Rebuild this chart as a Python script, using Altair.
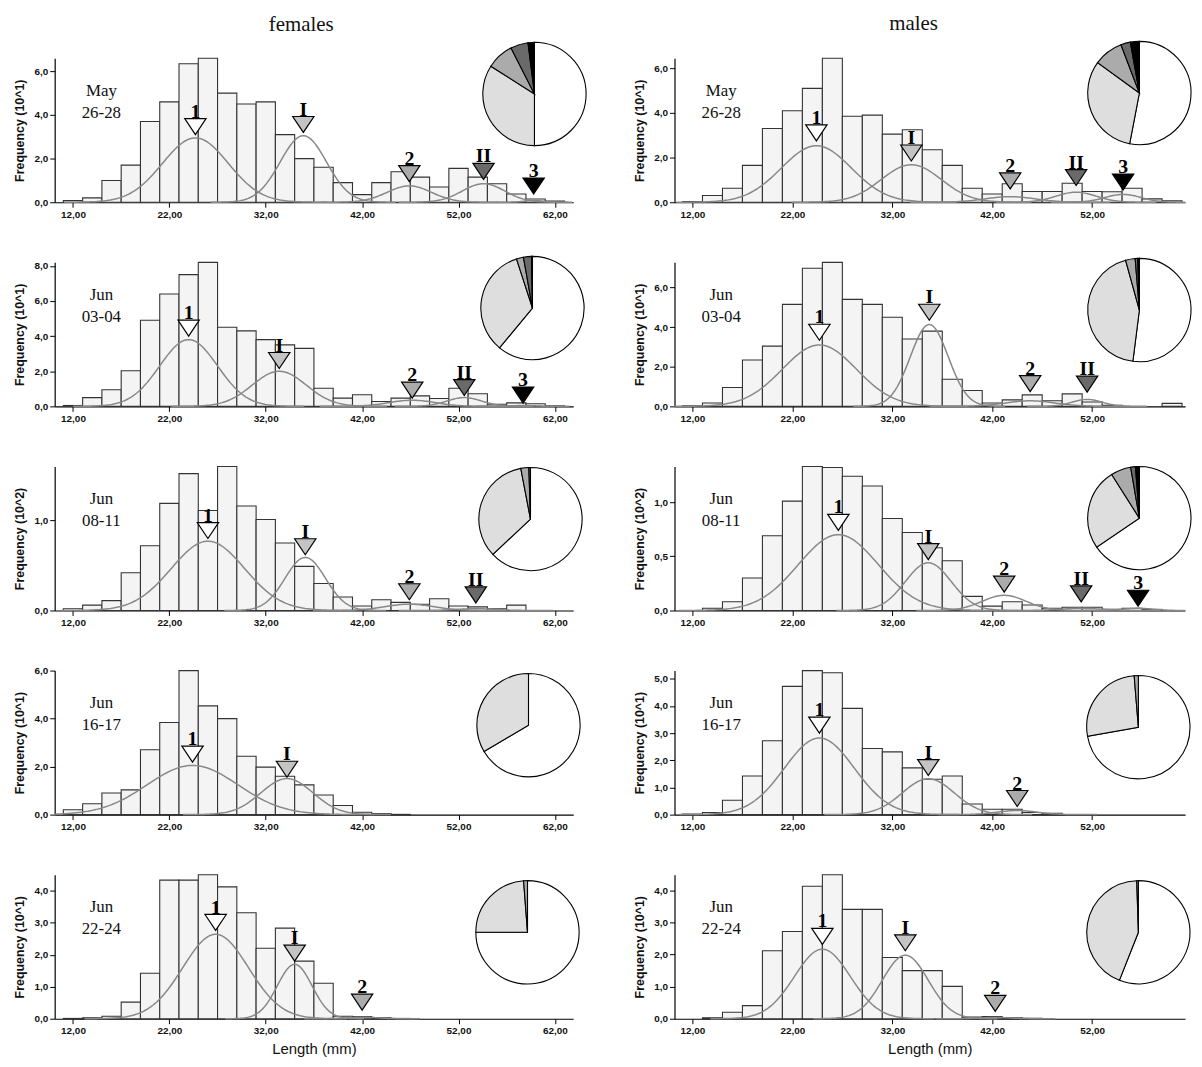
import altair as alt
import numpy as np
import pandas as pd

# ---------------- data ----------------
F_X = [12, 14, 16, 18, 20, 22, 24, 26, 28, 30, 32, 34, 36, 38, 40, 42, 44, 46, 48, 50, 52, 54, 56, 58, 60, 62]
M_X = [12, 14, 16, 18, 20, 22, 24, 26, 28, 30, 32, 34, 36, 38, 40, 42, 44, 46, 48, 50, 52, 54, 56, 58, 60]

F_XTICKS = [12, 22, 32, 42, 52, 62]
M_XTICKS = [12, 22, 32, 42, 52]

# females
F1_DATE = "May\n26-28"
F1_BARS = [0.08, 0.2, 1.0, 1.7, 3.7, 4.6, 6.35, 6.6, 5.0, 4.5, 4.6, 3.1, 2.0, 1.6, 0.9, 0.35, 0.9, 1.4, 1.15, 0.7, 1.55, 1.15, 0.85, 0.38, 0.15, 0.05]
F1_COMP = ["1", "I", "2", "II", "3"]
F1_MEAN = [24.7, 35.9, 46.9, 54.6, 59.8]
F1_SD = [3.4, 2.4, 2.3, 2.2, 1.0]
F1_PEAK = [2.95, 3.05, 0.75, 0.85, 0.08]
F1_TIP = [3.1, 3.2, 0.95, 1.05, 0.38]
F1_PIE = [0.50, 0.34, 0.085, 0.055, 0.02]

F2_DATE = "Jun\n03-04"
F2_BARS = [0.05, 0.5, 0.95, 2.03, 4.9, 6.4, 7.5, 8.2, 4.5, 4.3, 3.8, 3.5, 3.3, 1.03, 0.47, 0.66, 0.28, 0.47, 0.6, 0.45, 1.03, 0.72, 0.12, 0.2, 0.15, 0.03]
F2_COMP = ["1", "I", "2", "II", "3"]
F2_MEAN = [24.0, 33.4, 47.2, 52.6, 58.7]
F2_SD = [3.0, 2.8, 2.4, 1.8, 1.2]
F2_PEAK = [3.8, 2.0, 0.35, 0.5, 0.05]
F2_TIP = [4.0, 2.16, 0.47, 0.62, 0.19]
F2_PIE = [0.61, 0.34, 0.022, 0.025, 0.003]

F3_DATE = "Jun\n08-11"
F3_BARS = [0.02, 0.06, 0.11, 0.42, 0.72, 1.19, 1.52, 1.11, 1.6, 1.16, 1.01, 0.75, 0.49, 0.3, 0.15, 0.05, 0.12, 0.09, 0.07, 0.13, 0.05, 0.04, 0.02, 0.06, 0.0, 0.0]
F3_COMP = ["1", "I", "2", "II"]
F3_MEAN = [26.0, 36.1, 46.9, 53.8]
F3_SD = [3.8, 2.1, 2.5, 2.0]
F3_PEAK = [0.77, 0.59, 0.07, 0.02]
F3_TIP = [0.8, 0.62, 0.12, 0.085]
F3_PIE = [0.63, 0.34, 0.025, 0.005]

F4_DATE = "Jun\n16-17"
F4_BARS = [0.2, 0.45, 0.9, 1.03, 2.7, 3.84, 6.0, 4.53, 4.0, 2.43, 1.98, 1.6, 1.24, 0.82, 0.38, 0.1, 0.04, 0.01, 0, 0, 0, 0, 0, 0, 0, 0]
F4_COMP = ["1", "I"]
F4_MEAN = [24.4, 34.2]
F4_SD = [4.7, 2.7]
F4_PEAK = [2.05, 1.5]
F4_TIP = [2.19, 1.56]
F4_PIE = [0.665, 0.335]

F5_DATE = "Jun\n22-24"
F5_BARS = [0.01, 0.03, 0.08, 0.52, 1.42, 4.33, 4.33, 4.5, 4.12, 3.31, 2.2, 2.83, 1.8, 1.11, 0.08, 0.07, 0.03, 0.01, 0, 0, 0, 0, 0, 0, 0, 0]
F5_COMP = ["1", "I", "2"]
F5_MEAN = [26.8, 35.0, 42.0]
F5_SD = [3.4, 1.8, 1.5]
F5_PEAK = [2.64, 1.7, 0.05]
F5_TIP = [2.76, 1.8, 0.27]
F5_PIE = [0.75, 0.238, 0.012]

# males
M1_DATE = "May\n26-28"
M1_BARS = [0.03, 0.3, 0.63, 1.65, 3.3, 4.1, 5.1, 6.45, 3.85, 3.9, 3.05, 3.25, 2.35, 1.65, 0.63, 0.37, 0.83, 0.48, 0.48, 0.85, 0.48, 0.47, 0.63, 0.15, 0.07]
M1_COMP = ["1", "I", "2", "II", "3"]
M1_MEAN = [24.4, 33.9, 43.8, 50.4, 55.1]
M1_SD = [3.5, 3.0, 2.5, 2.0, 1.8]
M1_PEAK = [2.53, 1.68, 0.25, 0.45, 0.35]
M1_TIP = [2.75, 1.85, 0.6, 0.75, 0.55]
M1_PIE = [0.53, 0.32, 0.092, 0.03, 0.028]

M2_DATE = "Jun\n03-04"
M2_BARS = [0.03, 0.17, 0.95, 2.34, 3.04, 5.15, 6.97, 7.27, 5.4, 5.15, 4.5, 3.4, 3.8, 1.37, 0.8, 0.17, 0.33, 0.58, 0.28, 0.63, 0.22, 0.05, 0, 0, 0.15]
M2_COMP = ["1", "I", "2", "II"]
M2_MEAN = [24.7, 35.7, 45.8, 51.5]
M2_SD = [3.7, 1.9, 2.5, 1.5]
M2_PEAK = [3.1, 4.13, 0.28, 0.35]
M2_TIP = [3.34, 4.35, 0.75, 0.72]
M2_PIE = [0.52, 0.437, 0.03, 0.008, 0.005]

M3_DATE = "Jun\n08-11"
M3_BARS = [0.0, 0.02, 0.08, 0.3, 0.69, 1.01, 1.33, 1.32, 1.24, 1.15, 0.85, 0.72, 0.58, 0.46, 0.13, 0.04, 0.08, 0.05, 0.02, 0.03, 0.03, 0.01, 0.02, 0.01, 0.0]
M3_COMP = ["1", "I", "2", "II", "3"]
M3_MEAN = [26.6, 35.6, 43.2, 50.9, 56.6]
M3_SD = [4.0, 2.3, 2.2, 2.0, 1.5]
M3_PEAK = [0.7, 0.44, 0.14, 0.02, 0.02]
M3_TIP = [0.74, 0.47, 0.17, 0.08, 0.04]
M3_PIE = [0.655, 0.255, 0.063, 0.015, 0.012]

M4_DATE = "Jun\n16-17"
M4_BARS = [0.02, 0.08, 0.53, 1.42, 2.72, 4.72, 5.3, 5.22, 3.91, 2.43, 2.31, 1.72, 1.3, 1.42, 0.39, 0.2, 0.2, 0.08, 0.05, 0, 0, 0, 0, 0, 0]
M4_COMP = ["1", "I", "2"]
M4_MEAN = [24.7, 35.6, 44.5]
M4_SD = [3.5, 2.6, 2.0]
M4_PEAK = [2.82, 1.32, 0.15]
M4_TIP = [3.0, 1.44, 0.3]
M4_PIE = [0.722, 0.265, 0.013]

M5_DATE = "Jun\n22-24"
M5_BARS = [0, 0.03, 0.2, 0.41, 2.12, 2.72, 4.13, 4.49, 3.41, 3.41, 1.91, 1.5, 1.5, 1.01, 0.05, 0.07, 0.03, 0.01, 0, 0, 0, 0, 0, 0, 0]
M5_COMP = ["1", "I", "2"]
M5_MEAN = [25.0, 33.3, 42.3]
M5_SD = [2.8, 2.3, 1.5]
M5_PEAK = [2.17, 1.98, 0.04]
M5_TIP = [2.32, 2.12, 0.23]
M5_PIE = [0.56, 0.435, 0.005]

PIE_ORDER = ["1", "I", "2", "II", "3"]
ARROW_FILL = {"1": "#ffffff", "I": "#c4c4c4", "2": "#ababab", "II": "#6a6a6a", "3": "#000000"}
PIE_FILL = {"1": "#ffffff", "I": "#dedede", "2": "#ababab", "II": "#6a6a6a", "3": "#000000"}

PANEL_H = 145
F_W, M_W = 522, 514
F_DOM, M_DOM = [10.1, 63.9], [10.2, 61.3]

SANS = "Liberation Sans"
SERIF = "Liberation Serif"


def panel(xs, bars, ymax, yticks, unit, date, comps, means, sds, peaks, tips, pie,
          pie_xy, xdom, xticks, width, bottom):
    bar_df = pd.DataFrame({"x0": [c - 1 for c in xs], "x1": [c + 1 for c in xs], "y": bars})
    bar_df["y0"] = 0.0
    bar_df = bar_df[bar_df["y"] > 0]

    rows = []
    for c, m, s, p in zip(comps, means, sds, peaks):
        lo, hi = max(xdom[0], m - 4 * s), min(xdom[1], m + 4 * s)
        for xv in np.linspace(lo, hi, 120):
            rows.append({"c": c, "x": float(xv), "y": float(p * np.exp(-0.5 * ((xv - m) / s) ** 2))})
    curve_df = pd.DataFrame(rows)

    arrow_df = pd.DataFrame({"c": comps, "x": means, "tip": tips,
                             "fill": [ARROW_FILL[c] for c in comps]})

    pie_df = pd.DataFrame({"c": PIE_ORDER[:len(pie)], "v": pie, "k": list(range(len(pie)))})
    pie_df["fill"] = [PIE_FILL[c] for c in pie_df["c"]]
    pie_df = pie_df[pie_df["v"] > 0]

    xsc = alt.Scale(domain=xdom, nice=False, zero=False)
    ysc = alt.Scale(domain=[0, ymax], nice=False, zero=True)
    xaxis = alt.Axis(values=xticks, labelExpr="replace(format(datum.value, '.2f'), '.', ',')",
                     title="Length (mm)" if bottom else None, titleFont=SANS, titleFontSize=15,
                     titleFontWeight="normal", titlePadding=6, grid=False)
    yaxis = alt.Axis(values=yticks, labelExpr="replace(format(datum.value, '.1f'), '.', ',')",
                     title=f"Frequency (10^{unit})", titleFont=SANS, titleFontSize=12.5,
                     titleFontWeight="bold", titlePadding=7, grid=False)

    def X(f):
        return alt.X(f, scale=xsc, axis=xaxis)

    def Y(f):
        return alt.Y(f, scale=ysc, axis=yaxis)

    bars_l = alt.Chart(bar_df).mark_rect(fill="#f4f4f4", stroke="#333333", strokeWidth=1.1).encode(
        x=X("x0:Q"), x2="x1:Q", y=Y("y:Q"), y2="y0:Q")
    curves_l = alt.Chart(curve_df).mark_line(color="#888888", strokeWidth=1.5).encode(
        x=X("x:Q"), y=Y("y:Q"), detail="c:N")
    arrows_l = alt.Chart(arrow_df).mark_point(
        shape="M-1,-0.75L1,-0.75L0,0.75Z", size=460, filled=True, stroke="#000000",
        strokeWidth=1.2, opacity=1, yOffset=-8).encode(
        x=X("x:Q"), y=Y("tip:Q"), fill=alt.Fill("fill:N", scale=None))
    labels_l = alt.Chart(arrow_df).mark_text(
        font=SERIF, fontWeight="bold", fontSize=20, baseline="alphabetic", dy=-17,
        color="#000000").encode(x=X("x:Q"), y=Y("tip:Q"), text="c:N")
    date_l = alt.Chart(pd.DataFrame({"t": [date]})).mark_text(
        font=SERIF, fontSize=17, lineBreak="\n", lineHeight=22, baseline="top",
        align="center", color="#111111").encode(
        text="t:N", x=alt.value(47), y=alt.value(25))
    pie_l = alt.Chart(pie_df).mark_arc(radius=52, stroke="#000000", strokeWidth=1.1).encode(
        theta=alt.Theta("v:Q", stack=True), fill=alt.Fill("fill:N", scale=None),
        order=alt.Order("k:Q"), x=alt.value(pie_xy[0]), y=alt.value(pie_xy[1]))

    return alt.layer(bars_l, curves_l, arrows_l, labels_l, date_l, pie_l).properties(
        width=width, height=PANEL_H)


fem = [
    panel(F_X, F1_BARS, 6.6, [0, 2, 4, 6], 1, F1_DATE, F1_COMP, F1_MEAN, F1_SD, F1_PEAK, F1_TIP, F1_PIE, (483, 36), F_DOM, F_XTICKS, F_W, False),
    panel(F_X, F2_BARS, 8.2, [0, 2, 4, 6, 8], 1, F2_DATE, F2_COMP, F2_MEAN, F2_SD, F2_PEAK, F2_TIP, F2_PIE, (481, 46), F_DOM, F_XTICKS, F_W, False),
    panel(F_X, F3_BARS, 1.6, [0, 1], 2, F3_DATE, F3_COMP, F3_MEAN, F3_SD, F3_PEAK, F3_TIP, F3_PIE, (479, 53), F_DOM, F_XTICKS, F_W, False),
    panel(F_X, F4_BARS, 6.0, [0, 2, 4, 6], 1, F4_DATE, F4_COMP, F4_MEAN, F4_SD, F4_PEAK, F4_TIP, F4_PIE, (477, 55), F_DOM, F_XTICKS, F_W, False),
    panel(F_X, F5_BARS, 4.5, [0, 1, 2, 3, 4], 1, F5_DATE, F5_COMP, F5_MEAN, F5_SD, F5_PEAK, F5_TIP, F5_PIE, (476, 58), F_DOM, F_XTICKS, F_W, True),
]
mal = [
    panel(M_X, M1_BARS, 6.45, [0, 2, 4, 6], 1, M1_DATE, M1_COMP, M1_MEAN, M1_SD, M1_PEAK, M1_TIP, M1_PIE, (468, 35), M_DOM, M_XTICKS, M_W, False),
    panel(M_X, M2_BARS, 7.27, [0, 2, 4, 6], 1, M2_DATE, M2_COMP, M2_MEAN, M2_SD, M2_PEAK, M2_TIP, M2_PIE, (468, 48), M_DOM, M_XTICKS, M_W, False),
    panel(M_X, M3_BARS, 1.33, [0, 0.5, 1.0], 2, M3_DATE, M3_COMP, M3_MEAN, M3_SD, M3_PEAK, M3_TIP, M3_PIE, (468, 52), M_DOM, M_XTICKS, M_W, False),
    panel(M_X, M4_BARS, 5.3, [0, 1, 2, 3, 4, 5], 1, M4_DATE, M4_COMP, M4_MEAN, M4_SD, M4_PEAK, M4_TIP, M4_PIE, (467, 57), M_DOM, M_XTICKS, M_W, False),
    panel(M_X, M5_BARS, 4.49, [0, 1, 2, 3, 4], 1, M5_DATE, M5_COMP, M5_MEAN, M5_SD, M5_PEAK, M5_TIP, M5_PIE, (467, 58), M_DOM, M_XTICKS, M_W, True),
]

col_title = dict(font=SERIF, fontSize=21, fontWeight="normal", anchor="middle", color="#111111", offset=5)
fcol = alt.vconcat(*fem, spacing=60.5, bounds="flush", title=alt.TitleParams("females", **col_title))
mcol = alt.vconcat(*mal, spacing=60.5, bounds="flush", title=alt.TitleParams("males", **col_title))

chart = alt.hconcat(fcol, mcol, spacing=45).configure_view(
    strokeWidth=0
).configure_axis(
    labelFont=SANS, labelFontSize=10, labelFontWeight="bold", labelColor="#111111",
    domainColor="#000000", tickColor="#000000", domainWidth=1.2, tickWidth=1, tickSize=5,
    labelPadding=2, titleColor="#111111"
).properties(background="white", padding={"left": 6, "top": 1, "right": 0, "bottom": 2})

chart.save("out.html", embed_options={"renderer": "svg", "actions": False})
